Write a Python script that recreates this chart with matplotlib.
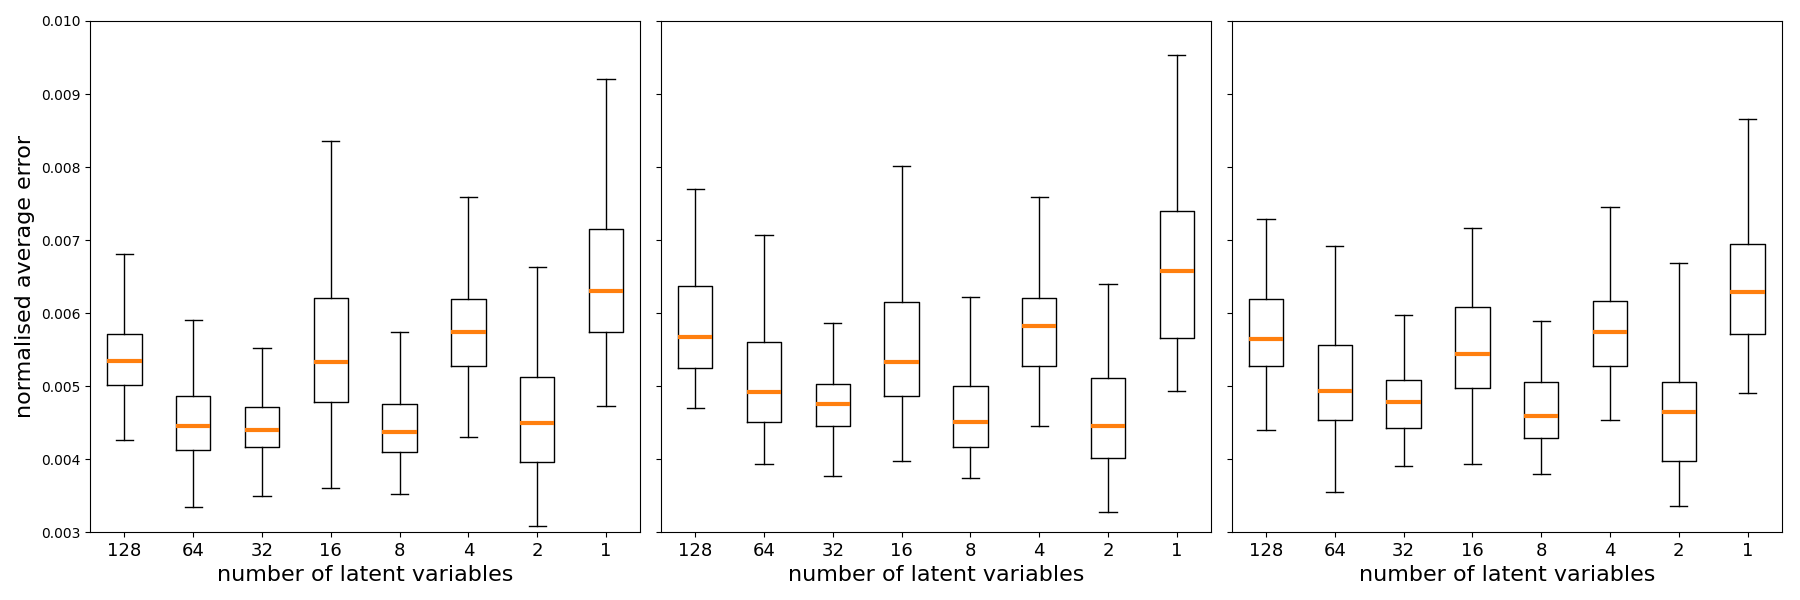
import matplotlib
matplotlib.use("Agg")
import matplotlib.pyplot as plt

labels = ['128', '64', '32', '16', '8', '4', '2', '1']

# panel 1
p1_low = [0.00426, 0.00335, 0.00349, 0.00361, 0.00352, 0.00431, 0.00309, 0.00473]
p1_q1  = [0.00501, 0.00412, 0.00416, 0.00478, 0.00410, 0.00528, 0.00396, 0.00574]
p1_med = [0.00534, 0.00446, 0.00440, 0.00533, 0.00437, 0.00574, 0.00449, 0.00630]
p1_q3  = [0.00572, 0.00487, 0.00472, 0.00621, 0.00475, 0.00619, 0.00512, 0.00715]
p1_high = [0.00681, 0.00591, 0.00552, 0.00836, 0.00574, 0.00759, 0.00663, 0.00921]

# panel 2
p2_low = [0.00470, 0.00394, 0.00377, 0.00397, 0.00374, 0.00446, 0.00328, 0.00494]
p2_q1  = [0.00525, 0.00451, 0.00445, 0.00487, 0.00416, 0.00528, 0.00401, 0.00566]
p2_med = [0.00567, 0.00492, 0.00475, 0.00533, 0.00451, 0.00583, 0.00445, 0.00657]
p2_q3  = [0.00637, 0.00560, 0.00503, 0.00615, 0.00500, 0.00621, 0.00511, 0.00740]
p2_high = [0.00770, 0.00707, 0.00586, 0.00802, 0.00622, 0.00759, 0.00640, 0.00954]

# panel 3
p3_low = [0.00440, 0.00355, 0.00390, 0.00393, 0.00380, 0.00453, 0.00336, 0.00490]
p3_q1  = [0.00527, 0.00453, 0.00443, 0.00498, 0.00429, 0.00528, 0.00398, 0.00571]
p3_med = [0.00564, 0.00494, 0.00478, 0.00544, 0.00459, 0.00574, 0.00464, 0.00629]
p3_q3  = [0.00619, 0.00556, 0.00509, 0.00608, 0.00506, 0.00616, 0.00506, 0.00695]
p3_high = [0.00729, 0.00692, 0.00597, 0.00717, 0.00589, 0.00745, 0.00668, 0.00866]

panels = [
    (p1_low, p1_q1, p1_med, p1_q3, p1_high),
    (p2_low, p2_q1, p2_med, p2_q3, p2_high),
    (p3_low, p3_q1, p3_med, p3_q3, p3_high),
]

fig, axes = plt.subplots(1, 3, figsize=(18, 6), dpi=100, sharey=True)
fig.subplots_adjust(left=0.05, right=0.99, top=0.965, bottom=0.113, wspace=0.037)

for i, (ax, (lo, q1, med, q3, hi)) in enumerate(zip(axes, panels)):
    stats = []
    for j in range(len(labels)):
        stats.append({'whislo': lo[j], 'q1': q1[j], 'med': med[j],
                      'q3': q3[j], 'whishi': hi[j], 'fliers': [],
                      'label': labels[j]})
    ax.bxp(stats, showfliers=False,
           medianprops={'color': '#ff7f0e', 'linewidth': 3})
    ax.set_ylim(0.003, 0.010)
    ax.tick_params(axis='x', labelsize=13)
    ax.tick_params(axis='y', labelsize=10)
    ax.set_xlabel('number of latent variables', fontsize=16)
    if i == 0:
        ax.set_ylabel('normalised average error', fontsize=16)

plt.savefig('out.png')
